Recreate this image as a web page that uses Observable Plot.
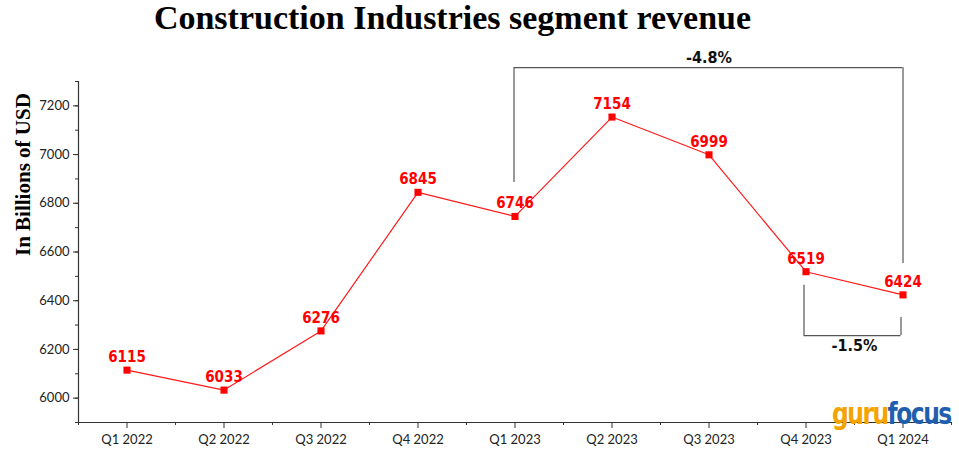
<!DOCTYPE html>
<html>
<head>
<meta charset="utf-8">
<script src="https://cdn.jsdelivr.net/npm/d3@7"></script>
<script src="https://cdn.jsdelivr.net/npm/@observablehq/plot@0.6"></script>
<style>
  html, body { margin: 0; padding: 0; background: #fff; }
  #wrap { position: relative; width: 959px; height: 452px; overflow: hidden; }
  #title { position: absolute; left: 0; top: 0; width: 905px; text-align: center;
           font-family: "Liberation Serif", "Times New Roman", serif; font-weight: bold;
           font-size: 34px; line-height: 36px; color: #000; }
  #logo { position: absolute; left: 832px; top: 396px; font-family: "DejaVu Sans Condensed", "DejaVu Sans", sans-serif;
          font-weight: bold; font-size: 26px; letter-spacing: -1.5px; line-height: 30px;
          transform: scaleY(1.15); transform-origin: left top; }
  #logo .g { color: #f4a300; }
  #logo .f { color: #1f5fae; }
</style>
</head>
<body>
<div id="wrap">
  <div id="chart"></div>
  <div id="title">Construction Industries segment revenue</div>
  <div id="logo"><span class="g">guru</span><span class="f">focus</span></div>
</div>
<script>
const quarters = ["Q1 2022", "Q2 2022", "Q3 2022", "Q4 2022", "Q1 2023", "Q2 2023", "Q3 2023", "Q4 2023", "Q1 2024"];
const revenue = [6115, 6033, 6276, 6845, 6746, 7154, 6999, 6519, 6424];
const yMajorTicks = [6000, 6200, 6400, 6600, 6800, 7000, 7200];
const yMinorTicks = [5900, 6000, 6100, 6200, 6300, 6400, 6500, 6600, 6700, 6800, 6900, 7000, 7100, 7200, 7300];
const yTitle = "In Billions of USD";

// bracket annotations (indices into quarters, y in data units)
const longFrom = 4, longTo = 8;           // Q1 2023 -> Q1 2024
const longTop = 7357, longLeftBottom = 6885, longRightBottom = 6553, longLabelY = 7398, longLabelX = 6;
const shortFrom = 7, shortTo = 8;         // Q4 2023 -> Q1 2024
const shortBottom = 6257, shortLeftTop = 6463, shortRightTop = 6331, shortLabelY = 6214;

const pct = (a, b) => ((revenue[b] - revenue[a]) / revenue[a] * 100).toFixed(1) + "%";

const data = revenue.map((v, i) => ({i, q: quarters[i], v}));
const xMinor = d3.range(-0.5, quarters.length, 1);

const labelFont = '"DejaVu Sans Condensed", "DejaVu Sans", sans-serif';
const bracketColor = "#555";

const chart = Plot.plot({
  width: 959,
  height: 452,
  marginTop: 81,
  marginBottom: 30,
  marginLeft: 78,
  marginRight: 8,
  style: {fontFamily: "Lato, sans-serif", fontSize: "13px", color: "#222", background: "transparent"},
  x: {type: "linear", domain: [-0.5, quarters.length - 0.5]},
  y: {domain: [5900, 7300]},
  marks: [
    // axes
    Plot.axisY({ticks: yMinorTicks, tickSize: 3, tickFormat: () => "", label: null, stroke: "#333"}),
    Plot.axisY({ticks: yMajorTicks, tickSize: 5, tickPadding: 4, tickFormat: d => String(d), fontSize: 13, label: null, stroke: "#333"}),
    Plot.axisX({ticks: xMinor, tickSize: 3, tickFormat: () => "", label: null, stroke: "#333"}),
    Plot.axisX({ticks: d3.range(quarters.length), tickSize: 6, tickPadding: 6, tickFormat: i => quarters[i], fontSize: 13, label: null, stroke: "#333"}),
    Plot.ruleX([-0.5], {stroke: "#333", strokeWidth: 1.2}),
    Plot.ruleY([5900], {stroke: "#333", strokeWidth: 1.2}),
    Plot.text([yTitle], {frameAnchor: "left", rotate: -90, dx: -55, dy: 4, fontSize: 21, fontWeight: "bold",
      fontFamily: '"Liberation Serif", "Times New Roman", serif', fill: "#000"}),
    // long bracket
    Plot.ruleX([longFrom], {y1: longLeftBottom, y2: longTop, stroke: bracketColor, strokeWidth: 1.2, dx: -1}),
    Plot.ruleX([longTo], {y1: longRightBottom, y2: longTop, stroke: bracketColor, strokeWidth: 1.2}),
    Plot.ruleY([longTop], {x1: longFrom, x2: longTo, stroke: bracketColor, strokeWidth: 1.2, dx: -0.5}),
    Plot.text([pct(longFrom, longTo)], {x: longLabelX, y: longLabelY, fontSize: 16, fontWeight: "bold", fontFamily: labelFont, fill: "#111"}),
    // short bracket
    Plot.ruleX([shortFrom], {y1: shortBottom, y2: shortLeftTop, stroke: bracketColor, strokeWidth: 1.2, dx: -2}),
    Plot.ruleX([shortTo], {y1: shortBottom, y2: shortRightTop, stroke: bracketColor, strokeWidth: 1.2, dx: -2}),
    Plot.ruleY([shortBottom], {x1: shortFrom, x2: shortTo, stroke: bracketColor, strokeWidth: 1.2, dx: -2}),
    Plot.text([pct(shortFrom, shortTo)], {x: (shortFrom + shortTo) / 2, y: shortLabelY, fontSize: 16, fontWeight: "bold", fontFamily: labelFont, fill: "#111"}),
    // series
    Plot.line(data, {x: "i", y: "v", stroke: "#ff1a1a", strokeWidth: 1.2}),
    Plot.dot(data, {x: "i", y: "v", symbol: "square", r: 4, fill: "#ff0000", stroke: "none"}),
    Plot.text(data, {x: "i", y: "v", text: d => String(d.v), dy: -8, lineAnchor: "bottom", fill: "#ff0000",
      fontSize: 15, fontWeight: "bold", fontFamily: labelFont})
  ]
});
document.getElementById("chart").appendChild(chart);
</script>
</body>
</html>
